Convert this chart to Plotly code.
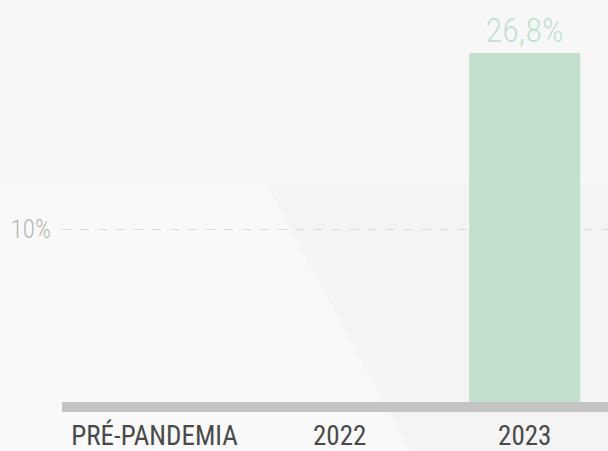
import plotly.graph_objects as go

categories = ["PRÉ-PANDEMIA", "2022", "2023"]
values = [None, None, 26.8]
y_ticks = [10]
y_tick_labels = ["10%"]

labels = ["" if v is None else f"{v:.1f}".replace(".", ",") + "%" for v in values]

FONT = "Roboto Condensed, Roboto, sans-serif"

fig = go.Figure()
fig.add_trace(go.Bar(
    x=categories, y=values, width=0.6,
    marker=dict(color="#c3e0cf", line=dict(width=0)),
    text=labels, textposition="outside", cliponaxis=False,
    textfont=dict(family=FONT, size=34, color="#c3e0ce", weight=300),
    hoverinfo="skip",
))

# subtle background decoration
fig.add_shape(type="path", xref="paper", yref="paper", layer="below",
              path="M -0.12 0.576 L 0.372 0.576 L 0.638 -0.13 L -0.12 -0.13 Z",
              fillcolor="#f9f9f9", line=dict(width=0))
fig.add_shape(type="path", xref="paper", yref="paper", layer="below",
              path="M 0.372 0.576 L 1 0.576 L 1 -0.13 L 0.638 -0.13 Z",
              fillcolor="#f4f4f4", line=dict(width=0))

fig.update_layout(
    width=608, height=451,
    margin=dict(l=62, r=0, t=20, b=49),
    paper_bgcolor="#f7f7f7", plot_bgcolor="rgba(0,0,0,0)",
    showlegend=False, bargap=0.4,
    font=dict(family=FONT),
)
fig.update_xaxes(
    type="category", range=[-0.5, 2.45], automargin=False,
    showline=True, linewidth=10, linecolor="#c4c4c4",
    showgrid=False, zeroline=False,
    ticks="outside", ticklen=1, tickcolor="rgba(0,0,0,0)",
    tickfont=dict(family=FONT, size=27, color="#4a4a4a"),
)
fig.update_yaxes(
    type="log", range=[0.5791, 1.5085], automargin=False,
    tickvals=y_ticks, ticktext=y_tick_labels,
    showgrid=True, gridcolor="#d9d9d9", griddash="dash", gridwidth=1,
    zeroline=False, showline=False,
    ticks="outside", ticklen=5, tickcolor="rgba(0,0,0,0)",
    tickfont=dict(family=FONT, size=25, color="#b5b5b5", weight=300),
)
fig.write_html("out.html", config={"displayModeBar": False},
               post_script="document.body.style.margin='0';document.body.style.overflow='hidden';")
